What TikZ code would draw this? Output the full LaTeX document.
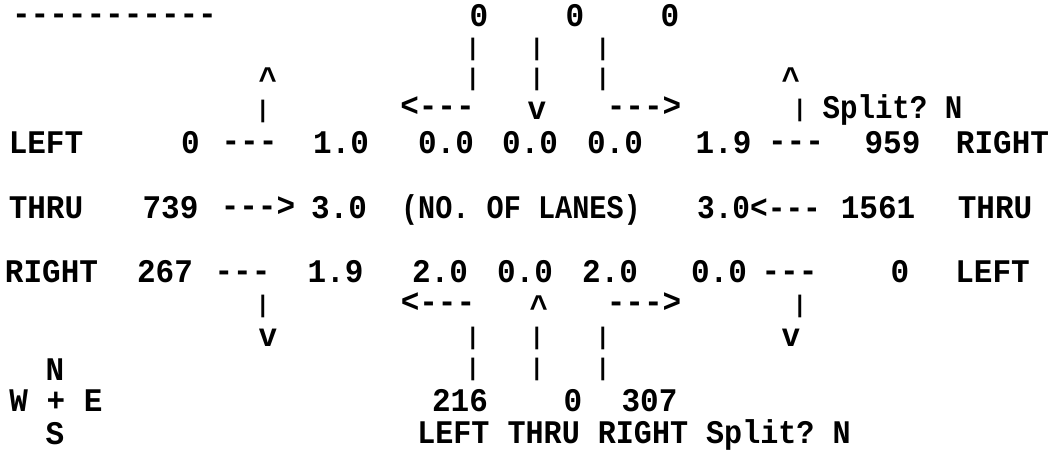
\documentclass[tikz,border=0pt]{standalone}
\usepackage{fontspec}
\usepackage{graphicx}
\setmonofont[FakeStretch=0.94]{Liberation Mono}
\begin{document}
\begin{tikzpicture}[x=1pt,y=-1pt,
  txt/.style={font=\ttfamily\bfseries\fontsize{33}{33}\selectfont, inner sep=0pt, anchor=base},
  dsh/.style={font=\ttfamily\bfseries\fontsize{33}{33}\selectfont, inner sep=0pt, anchor=north},
  pipe/.style={font=\ttfamily\bfseries\fontsize{24}{24}\selectfont, inner sep=0pt, anchor=center},
  caret/.style={font=\ttfamily\bfseries\fontsize{33}{33}\selectfont, inner sep=0pt, anchor=north},
  vee/.style={font=\ttfamily\bfseries\fontsize{33}{33}\selectfont, inner sep=0pt, anchor=center}]
\useasboundingbox[fill=white] (0,0) rectangle (1049,450);
% row 0
\node[dsh] (dash0) at (114.5,13.5) {-----------};
\node[txt] (z1) at (479,26) {0};
\node[txt] (z2) at (575,26) {0};
\node[txt] (z3) at (670,26) {0};
% rows 1-2
\node[pipe] (p1a) at (473,49) {|};
\node[pipe] (p1b) at (537,49) {|};
\node[pipe] (p1c) at (603,49) {|};
\node[pipe] (p2a) at (473,79) {|};
\node[pipe] (p2b) at (537,79) {|};
\node[pipe] (p2c) at (603,79) {|};
\node[caret] (c2l) at (268,68) {\textasciicircum};
\node[caret] (c2r) at (791,68) {\textasciicircum};
% row 3
\node[pipe] (p3l) at (263,111) {|};
\node[txt] (al3) at (437.5,116) {<---};
\node[vee] (v3) at (537,111) {v};
\node[txt] (ar3) at (644,116) {--->};
\node[pipe] (p3r) at (800,110) {|};
\node[txt] (sp3) at (892.5,118) {\scalebox{0.94}[1]{Split? N}};
% row 4
\node[txt] (l4) at (46,153) {LEFT};
\node[txt] (v4a) at (190.5,153) {0};
\node[dsh] (d4a) at (249.5,140.5) {---};
\node[txt] (n4a) at (341,153) {1.0};
\node[txt] (n4b) at (446,153) {0.0};
\node[txt] (n4c) at (530,153) {0.0};
\node[txt] (n4d) at (615,153) {0.0};
\node[txt] (n4e) at (723.5,153) {1.9};
\node[dsh] (d4b) at (796,140.5) {---};
\node[txt] (v4b) at (892.5,153) {959};
\node[txt] (r4) at (1002.5,153) {RIGHT};
% row 6
\node[txt] (l6) at (46,218) {THRU};
\node[txt] (v6a) at (170.5,218) {739};
\node[txt] (a6a) at (258,216) {--->};
\node[txt] (n6a) at (339,218) {3.0};
\node[txt] (lanes) at (521,218) {\scalebox{0.92}[1]{(NO. OF LANES)}};
\node[txt] (a6b) at (759,218) {\scalebox{0.95}[1]{3.0<---}};
\node[txt] (v6b) at (878,218) {1561};
\node[txt] (r6) at (995,218) {THRU};
% row 8
\node[txt] (l8) at (51.5,282) {RIGHT};
\node[txt] (v8a) at (165,282) {267};
\node[dsh] (d8a) at (242.5,270.5) {---};
\node[txt] (n8a) at (335.5,282) {1.9};
\node[txt] (n8b) at (440,282) {2.0};
\node[txt] (n8c) at (525,282) {0.0};
\node[txt] (n8d) at (610,282) {2.0};
\node[txt] (n8e) at (719,282) {0.0};
\node[dsh] (d8b) at (789.5,270.5) {---};
\node[txt] (v8b) at (900,282) {0};
\node[txt] (r8) at (992.5,282) {LEFT};
% row 9
\node[pipe] (p9l) at (263,306) {|};
\node[txt] (al9) at (438,312) {<---};
\node[caret] (c9) at (539,296) {\textasciicircum};
\node[txt] (ar9) at (644,312) {--->};
\node[pipe] (p9r) at (800,306) {|};
% row 10
\node[vee] (v10l) at (268,338) {v};
\node[pipe] (p10a) at (473,338) {|};
\node[pipe] (p10b) at (537,338) {|};
\node[pipe] (p10c) at (603,338) {|};
\node[vee] (v10r) at (791,338) {v};
% row 11
\node[txt] (nN) at (55,380) {N};
\node[pipe] (p11a) at (473,369) {|};
\node[pipe] (p11b) at (537,369) {|};
\node[pipe] (p11c) at (603,369) {|};
% row 12
\node[txt] (we) at (56,411) {W + E};
\node[txt] (b1) at (460,411) {216};
\node[txt] (b2) at (573,411) {0};
\node[txt] (b3) at (649.5,411) {307};
% row 13
\node[txt] (sS) at (55,444) {S};
\node[txt] (bl) at (634,443) {\scalebox{0.97}[1]{LEFT THRU RIGHT Split? N}};
\end{tikzpicture}
\end{document}
